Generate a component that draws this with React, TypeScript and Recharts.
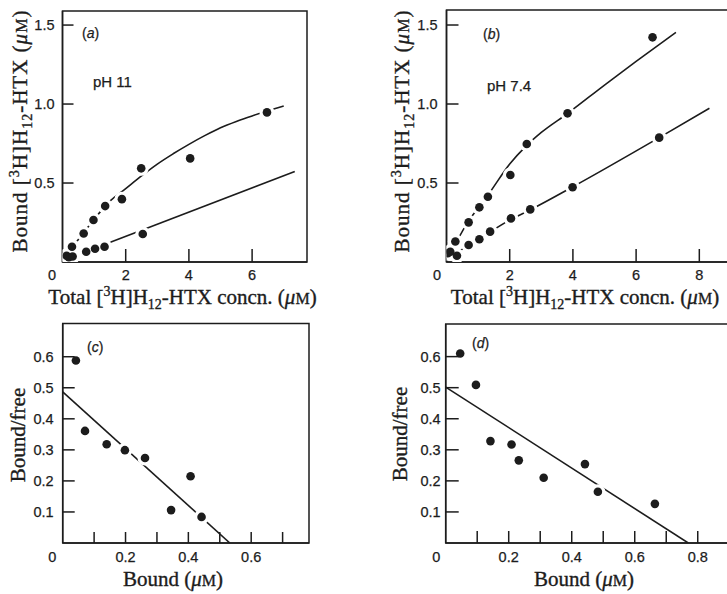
import React from "react";
import { ComposedChart, Line, Scatter, XAxis, YAxis, ReferenceArea } from "recharts";

type Pt = { x: number; y: number };

// (a) pH 11 — bound [3H]H12-HTX vs total concentration, µM
const ph11Upper: Pt[] = [
  { x: 0.13, y: 0.04 }, { x: 0.3, y: 0.097 }, { x: 0.67, y: 0.18 }, { x: 0.98, y: 0.266 },
  { x: 1.35, y: 0.354 }, { x: 1.88, y: 0.398 }, { x: 2.49, y: 0.593 }, { x: 4.04, y: 0.656 },
  { x: 6.47, y: 0.947 },
];
const ph11Lower: Pt[] = [
  { x: 0.2, y: 0.03 }, { x: 0.32, y: 0.035 }, { x: 0.75, y: 0.065 }, { x: 1.03, y: 0.084 },
  { x: 1.33, y: 0.097 }, { x: 2.54, y: 0.177 },
];
const ph11UpperFit: Pt[] = [
  { x: 0, y: 0 }, { x: 0.3, y: 0.09 }, { x: 0.65, y: 0.18 }, { x: 1.0, y: 0.27 },
  { x: 1.5, y: 0.385 }, { x: 2.0, y: 0.465 }, { x: 2.5, y: 0.545 }, { x: 3.0, y: 0.62 },
  { x: 3.5, y: 0.685 }, { x: 4.0, y: 0.745 }, { x: 4.5, y: 0.8 }, { x: 5.0, y: 0.85 },
  { x: 5.5, y: 0.89 }, { x: 6.0, y: 0.925 }, { x: 6.5, y: 0.957 }, { x: 7.0, y: 0.987 },
];
const ph11LowerFit: Pt[] = [{ x: 0.75, y: 0.066 }, { x: 7.35, y: 0.573 }];

// (b) pH 7.4
const ph74Upper: Pt[] = [
  { x: 0.04, y: 0.055 }, { x: 0.12, y: 0.065 }, { x: 0.28, y: 0.13 }, { x: 0.7, y: 0.251 },
  { x: 1.04, y: 0.346 }, { x: 1.31, y: 0.413 }, { x: 2.02, y: 0.551 }, { x: 2.54, y: 0.747 },
  { x: 3.83, y: 0.941 }, { x: 6.52, y: 1.422 },
];
const ph74Lower: Pt[] = [
  { x: 0.33, y: 0.04 }, { x: 0.7, y: 0.108 }, { x: 1.04, y: 0.144 }, { x: 1.38, y: 0.192 },
  { x: 2.04, y: 0.276 }, { x: 2.65, y: 0.333 }, { x: 3.99, y: 0.473 }, { x: 6.73, y: 0.787 },
];
const ph74UpperFit: Pt[] = [
  { x: 0, y: 0 }, { x: 0.3, y: 0.12 }, { x: 0.7, y: 0.26 }, { x: 1.0, y: 0.34 },
  { x: 1.3, y: 0.42 }, { x: 2.0, y: 0.62 }, { x: 2.5, y: 0.73 }, { x: 3.0, y: 0.82 },
  { x: 3.83, y: 0.94 }, { x: 5.0, y: 1.12 }, { x: 6.0, y: 1.27 }, { x: 7.26, y: 1.454 },
];
const ph74LowerFit: Pt[] = [
  { x: 0, y: 0.02 }, { x: 0.33, y: 0.06 }, { x: 0.7, y: 0.105 }, { x: 1.04, y: 0.145 },
  { x: 1.38, y: 0.19 }, { x: 2.04, y: 0.27 }, { x: 2.65, y: 0.33 }, { x: 3.99, y: 0.475 },
  { x: 6.73, y: 0.787 }, { x: 8.32, y: 0.973 },
];

// (c) Scatchard plot, pH 11
const scatchard11: Pt[] = [
  { x: 0.042, y: 0.588 }, { x: 0.071, y: 0.361 }, { x: 0.14, y: 0.318 }, { x: 0.198, y: 0.299 },
  { x: 0.262, y: 0.274 }, { x: 0.345, y: 0.106 }, { x: 0.407, y: 0.215 }, { x: 0.442, y: 0.084 },
];
const scatchard11Fit: Pt[] = [{ x: 0, y: 0.487 }, { x: 0.532, y: 0 }];

// (d) Scatchard plot, pH 7.4
const scatchard74: Pt[] = [
  { x: 0.046, y: 0.61 }, { x: 0.096, y: 0.509 }, { x: 0.142, y: 0.328 }, { x: 0.209, y: 0.317 },
  { x: 0.232, y: 0.266 }, { x: 0.311, y: 0.21 }, { x: 0.442, y: 0.254 }, { x: 0.483, y: 0.165 },
  { x: 0.664, y: 0.126 },
];
const scatchard74Fit: Pt[] = [{ x: 0, y: 0.502 }, { x: 0.77, y: 0 }];

const totalTicksA = [0, 2, 4, 6];
const totalTicksB = [0, 2, 4, 6, 8];
const boundTicks = [0.5, 1.0, 1.5];
const scatXTicksC = [0, 0.1, 0.2, 0.3, 0.4, 0.5, 0.6, 0.7];
const scatXTicksD = [0, 0.1, 0.2, 0.3, 0.4, 0.5, 0.6, 0.7, 0.8];
const scatXLabels = [0, 0.2, 0.4, 0.6, 0.8];
const ratioTicks = [0.1, 0.2, 0.3, 0.4, 0.5, 0.6];

const INK = "#1c1c1c";
const SANS = "'Liberation Sans', Arial, sans-serif";
const SERIF = "'Liberation Serif', 'Times New Roman', serif";
const X_AXIS_H = 20;
const Y_AXIS_W = 30;

// slightly heavier print for all lettering
const sansText = { fontFamily: SANS, fill: INK, stroke: INK, strokeWidth: 0.25 };
const serifText = { fontFamily: SERIF, fill: INK, stroke: INK, strokeWidth: 0.35 };

const num = (v: number) => (v === 0 ? "0" : Number.isInteger(v) ? String(v) : v.toFixed(1));

type PanelProps = {
  left: number;
  top: number;
  width: number;
  height: number;
  plot: { left: number; top: number; right: number; bottom: number };
  xMax: number;
  yMax: number;
  xTicks: number[];
  xLabels: number[];
  yTicks: number[];
  xTickLen: number;
  yTickLen: number;
  xLabelDy: number;
  yLabelGap: number;
  zeroDx: number;
  series: Pt[][];
  fits: { data: Pt[]; curved: boolean }[];
  notes: React.ReactNode;
};

function Panel(p: PanelProps) {
  const margin = {
    top: p.plot.top - p.top,
    left: p.plot.left - p.left - Y_AXIS_W,
    right: p.left + p.width - p.plot.right,
    bottom: p.top + p.height - p.plot.bottom - X_AXIS_H,
  };

  const xTick = (props: any) => {
    const { x, y, payload } = props;
    const v = payload.value as number;
    return (
      <g>
        {v !== 0 && <line x1={x} y1={y} x2={x} y2={y - p.xTickLen} stroke={INK} strokeWidth={1.5} />}
        {p.xLabels.includes(v) && (
          <text x={v === 0 ? x - p.zeroDx : x} y={y + p.xLabelDy} textAnchor="middle" fontSize={14.5} {...sansText}>
            {num(v)}
          </text>
        )}
      </g>
    );
  };

  const yTick = (props: any) => {
    const { x, y, payload } = props;
    const v = payload.value as number;
    return (
      <g>
        <line x1={x} y1={y} x2={x + p.yTickLen} y2={y} stroke={INK} strokeWidth={1.5} />
        <text x={x - p.yLabelGap} y={y + 5} textAnchor="end" fontSize={14.5} {...sansText}>
          {v.toFixed(1)}
        </text>
      </g>
    );
  };

  // white halo under each dot leaves the small gaps where a fitted line runs through a point
  const halo = (s: any) => <circle cx={s.cx} cy={s.cy} r={7.5} fill="#fff" />;
  const dot = (s: any) => <circle cx={s.cx} cy={s.cy} r={4.3} fill={INK} />;

  return (
    <div style={{ position: "absolute", left: p.left, top: p.top }}>
      <ComposedChart width={p.width} height={p.height} margin={margin}>
        <XAxis type="number" dataKey="x" domain={[0, p.xMax]} allowDataOverflow ticks={p.xTicks}
          interval={0} height={X_AXIS_H} tickSize={0} tickMargin={0} tickLine={false}
          axisLine={{ stroke: INK, strokeWidth: 1.5 }} tick={xTick} />
        <YAxis type="number" dataKey="y" domain={[0, p.yMax]} allowDataOverflow ticks={p.yTicks}
          interval={0} width={Y_AXIS_W} tickSize={0} tickMargin={0} tickLine={false}
          axisLine={{ stroke: INK, strokeWidth: 1.5 }} tick={yTick} />
        <ReferenceArea x1={0} x2={p.xMax} y1={0} y2={p.yMax} fill="none" stroke={INK}
          strokeWidth={1.5} label={() => <g transform={`translate(${-p.left},${-p.top})`}>{p.notes}</g>} />
        {p.fits.map((f, i) => (
          <Line key={`fit-${i}`} data={f.data} dataKey="y" type={f.curved ? "monotone" : "linear"}
            stroke={INK} strokeWidth={1.6} dot={false} activeDot={false} isAnimationActive={false} />
        ))}
        {p.series.map((s, i) => (
          <Scatter key={`halo-${i}`} data={s} shape={halo} isAnimationActive={false} />
        ))}
        {p.series.map((s, i) => (
          <Scatter key={`pts-${i}`} data={s} shape={dot} isAnimationActive={false} />
        ))}
      </ComposedChart>
    </div>
  );
}

const Um = () => (
  <>
    <tspan fontStyle="italic">μ</tspan>
    <tspan fontSize={16}>M</tspan>
  </>
);

// "[3H]H12-HTX" with superscript mass number and subscript 12
const Htx = () => (
  <>
    [<tspan dy={-8} fontSize={14}>3</tspan>
    <tspan dy={8}>H]H</tspan>
    <tspan dy={5} fontSize={14}>12</tspan>
    <tspan dy={-5}>-HTX</tspan>
  </>
);

const TotalTitle = ({ x, y }: { x: number; y: number }) => (
  <text x={x} y={y} textAnchor="middle" fontSize={21} {...serifText}>
    Total <Htx /> concn. (<Um />)
  </text>
);

const BoundTitle = ({ x, y }: { x: number; y: number }) => (
  <text transform={`translate(${x},${y}) rotate(-90)`} textAnchor="middle" fontSize={21}
    letterSpacing={1} {...serifText}>
    Bound <Htx /> (<Um />)
  </text>
);

const PanelTag = ({ x, y, tag }: { x: number; y: number; tag: string }) => (
  <text x={x} y={y} fontSize={14} {...sansText}>
    (<tspan fontStyle="italic">{tag}</tspan>)
  </text>
);

export default function App() {
  return (
    <div style={{ position: "absolute", left: 0, top: 0, width: 727, height: 594, overflow: "hidden", background: "#fff" }}>
      <Panel
        left={0} top={0} width={340} height={315}
        plot={{ left: 62.5, top: 11, right: 307, bottom: 262 }}
        xMax={7.737} yMax={1.589}
        xTicks={totalTicksA} xLabels={totalTicksA} yTicks={boundTicks}
        xTickLen={13} yTickLen={11} xLabelDy={18} yLabelGap={8} zeroDx={10.5}
        series={[ph11Upper, ph11Lower]}
        fits={[{ data: ph11UpperFit, curved: true }, { data: ph11LowerFit, curved: false }]}
        notes={
          <>
            <PanelTag x={82} y={38} tag="a" />
            <text x={93} y={87} fontSize={15} {...sansText}>pH 11</text>
            <TotalTitle x={182.5} y={304} />
            <BoundTitle x={27} y={131} />
          </>
        }
      />
      <Panel
        left={340} top={0} width={410} height={315}
        plot={{ left: 446.5, top: 10, right: 740.4, bottom: 262 }}
        xMax={9.3} yMax={1.595}
        xTicks={totalTicksB} xLabels={totalTicksB} yTicks={boundTicks}
        xTickLen={13} yTickLen={12} xLabelDy={18} yLabelGap={9} zeroDx={9.5}
        series={[ph74Upper, ph74Lower]}
        fits={[{ data: ph74UpperFit, curved: true }, { data: ph74LowerFit, curved: true }]}
        notes={
          <>
            <PanelTag x={483} y={39} tag="b" />
            <text x={487} y={91} fontSize={15} {...sansText}>pH 7.4</text>
            <TotalTitle x={585} y={304} />
            <BoundTitle x={409} y={131} />
          </>
        }
      />
      <Panel
        left={0} top={300} width={340} height={294}
        plot={{ left: 62.7, top: 323.5, right: 309, bottom: 543 }}
        xMax={0.784} yMax={0.707}
        xTicks={scatXTicksC} xLabels={scatXLabels} yTicks={ratioTicks}
        xTickLen={11} yTickLen={12} xLabelDy={19} yLabelGap={9} zeroDx={10.5}
        series={[scatchard11]}
        fits={[{ data: scatchard11Fit, curved: false }]}
        notes={
          <>
            <PanelTag x={87} y={352} tag="c" />
            <text x={173} y={586} textAnchor="middle" fontSize={21} {...serifText}>
              Bound (<Um />)
            </text>
            <text transform="translate(25,435) rotate(-90)" textAnchor="middle" fontSize={21} {...serifText}>
              Bound/free
            </text>
          </>
        }
      />
      <Panel
        left={340} top={300} width={420} height={294}
        plot={{ left: 445.7, top: 324, right: 745, bottom: 543 }}
        xMax={0.95} yMax={0.705}
        xTicks={scatXTicksD} xLabels={scatXLabels} yTicks={ratioTicks}
        xTickLen={12} yTickLen={13} xLabelDy={19} yLabelGap={5} zeroDx={9.5}
        series={[scatchard74]}
        fits={[{ data: scatchard74Fit, curved: false }]}
        notes={
          <>
            <PanelTag x={472} y={348} tag="d" />
            <text x={584} y={586} textAnchor="middle" fontSize={21} {...serifText}>
              Bound (<Um />)
            </text>
            <text transform="translate(407,434) rotate(-90)" textAnchor="middle" fontSize={21} {...serifText}>
              Bound/free
            </text>
          </>
        }
      />
    </div>
  );
}
